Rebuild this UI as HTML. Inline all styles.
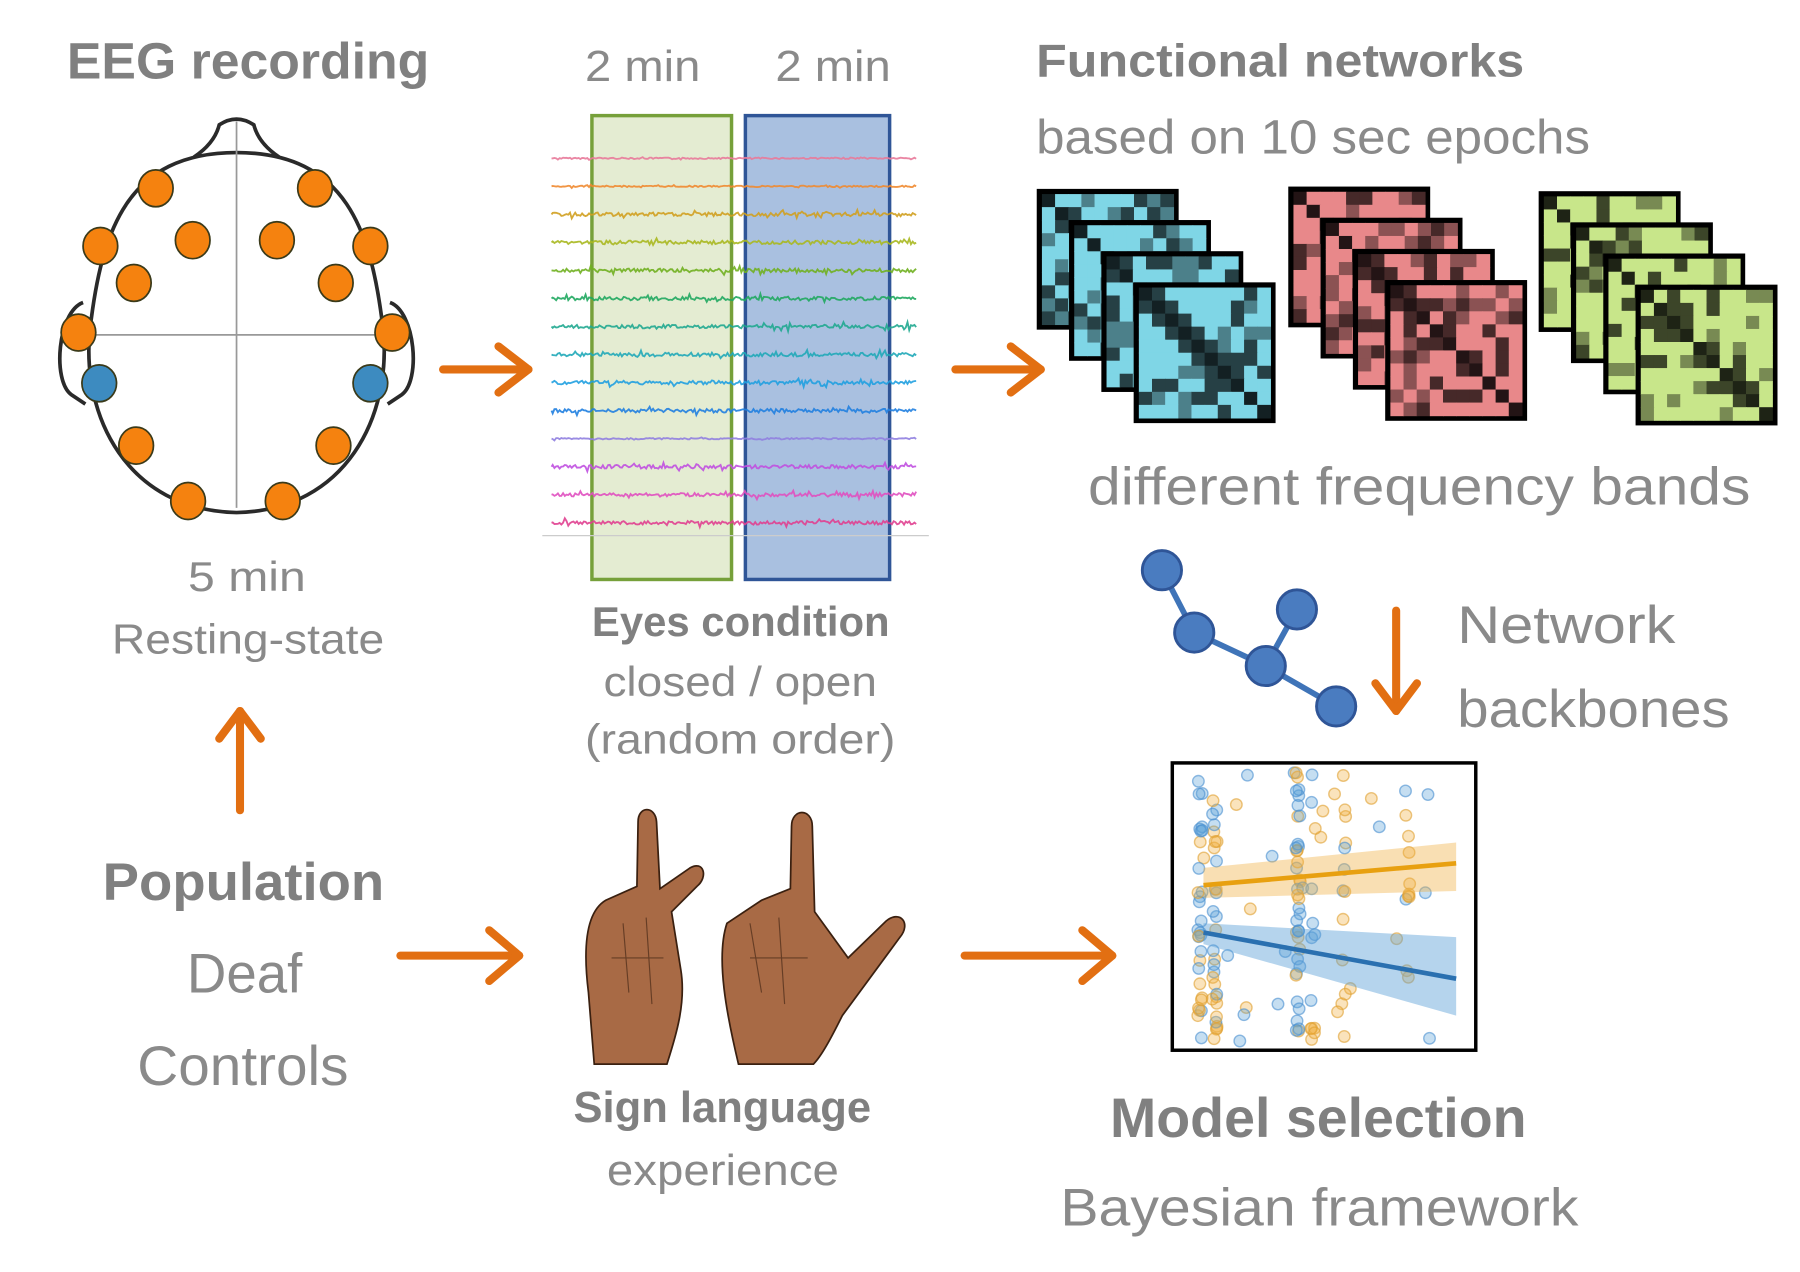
<!DOCTYPE html>
<html><head><meta charset="utf-8"><style>
html,body{margin:0;padding:0;background:#fff;width:1800px;height:1272px;overflow:hidden}
svg{display:block}
text{font-family:"Liberation Sans",sans-serif;fill:#8a8a8a}
.b{font-weight:bold;fill:#808080}
</style></head><body>
<svg id="s" width="1800" height="1272" viewBox="0 0 1560 1102" xmlns="http://www.w3.org/2000/svg">
<!-- titles -->
<text class="b" x="58" y="68" font-size="44" textLength="314" lengthAdjust="spacingAndGlyphs">EEG recording</text>
<text x="507" y="70" font-size="38" textLength="100" lengthAdjust="spacingAndGlyphs">2 min</text>
<text x="672" y="70" font-size="38" textLength="100" lengthAdjust="spacingAndGlyphs">2 min</text>
<text class="b" x="898" y="66" font-size="40" textLength="423" lengthAdjust="spacingAndGlyphs">Functional networks</text>
<text x="898" y="133" font-size="42" textLength="480" lengthAdjust="spacingAndGlyphs">based on 10 sec epochs</text>
<text x="943" y="437" font-size="46" textLength="574" lengthAdjust="spacingAndGlyphs">different frequency bands</text>
<text x="163" y="512" font-size="36" textLength="102" lengthAdjust="spacingAndGlyphs">5 min</text>
<text x="97" y="566" font-size="36" textLength="236" lengthAdjust="spacingAndGlyphs">Resting-state</text>
<text class="b" x="513" y="551" font-size="36" textLength="258" lengthAdjust="spacingAndGlyphs">Eyes condition</text>
<text x="523" y="603" font-size="36" textLength="237" lengthAdjust="spacingAndGlyphs">closed / open</text>
<text x="507" y="653" font-size="36" textLength="269" lengthAdjust="spacingAndGlyphs">(random order)</text>
<text x="1263" y="557" font-size="46" textLength="189" lengthAdjust="spacingAndGlyphs">Network</text>
<text x="1263" y="630" font-size="46" textLength="236" lengthAdjust="spacingAndGlyphs">backbones</text>
<text class="b" x="89" y="780" font-size="46" textLength="244" lengthAdjust="spacingAndGlyphs">Population</text>
<text x="162" y="860" font-size="48" textLength="100" lengthAdjust="spacingAndGlyphs">Deaf</text>
<text x="119" y="940" font-size="48" textLength="183" lengthAdjust="spacingAndGlyphs">Controls</text>
<text class="b" x="497" y="972" font-size="38" textLength="258" lengthAdjust="spacingAndGlyphs">Sign language</text>
<text x="526" y="1027" font-size="38" textLength="201" lengthAdjust="spacingAndGlyphs">experience</text>
<text class="b" x="962" y="985" font-size="48" textLength="361" lengthAdjust="spacingAndGlyphs">Model selection</text>
<text x="919" y="1062" font-size="46" textLength="449" lengthAdjust="spacingAndGlyphs">Bayesian framework</text>

<!-- head -->
<g fill="none" stroke="#2a2a2a" stroke-width="3.2">
<path d="M168,136 Q186,124 190,108 Q205,98 220,108 Q224,124 242,136"/>
<path d="M205,132 C110,132 88,200 78,285 C70,360 110,442 205,444 C300,442 340,360 332,285 C322,200 300,132 205,132 Z"/>
<path d="M72,262 C50,270 45,330 62,342 L74,350"/>
<path d="M338,262 C360,270 365,330 348,342 L336,350"/>
</g>
<g stroke="#999" stroke-width="1.5"><line x1="205" y1="105" x2="205" y2="440"/><line x1="68" y1="290" x2="340" y2="290"/></g>
<g stroke="#3a3a1a" stroke-width="1.5" fill="#f5820f">
<ellipse cx="135" cy="163" rx="15" ry="16"/><ellipse cx="273" cy="163" rx="15" ry="16"/>
<ellipse cx="167" cy="208" rx="15" ry="16"/><ellipse cx="240" cy="208" rx="15" ry="16"/>
<ellipse cx="87" cy="213" rx="15" ry="16"/><ellipse cx="321" cy="213" rx="15" ry="16"/>
<ellipse cx="116" cy="245" rx="15" ry="16"/><ellipse cx="291" cy="245" rx="15" ry="16"/>
<ellipse cx="68" cy="288" rx="15" ry="16"/><ellipse cx="340" cy="288" rx="15" ry="16"/>
<ellipse cx="118" cy="386" rx="15" ry="16"/><ellipse cx="289" cy="386" rx="15" ry="16"/>
<ellipse cx="163" cy="434" rx="15" ry="16"/><ellipse cx="245" cy="434" rx="15" ry="16"/>
<ellipse cx="86" cy="332" rx="15" ry="16" fill="#3d8bc0"/><ellipse cx="321" cy="332" rx="15" ry="16" fill="#3d8bc0"/>
</g>

<!-- EEG boxes -->
<rect x="513" y="100" width="121" height="402" fill="#e4ecd2" stroke="#76a03a" stroke-width="3"/>
<rect x="646" y="100" width="125" height="402" fill="#a9c0e0" stroke="#2f5597" stroke-width="3"/>
<g id="eeg"></g>
<line x1="470" y1="464" x2="805" y2="464" stroke="#ccc" stroke-width="1"/>

<!-- arrows -->
<g stroke="#e26f12" stroke-width="7" fill="none" stroke-linecap="round" stroke-linejoin="round">
<line x1="384" y1="320" x2="458" y2="320"/><path d="M432,300 L458,320 L432,340"/>
<line x1="828" y1="320" x2="902" y2="320"/><path d="M876,300 L902,320 L876,340"/>
<line x1="347" y1="828" x2="450" y2="828"/><path d="M424,806 L450,828 L424,850"/>
<line x1="836" y1="828" x2="964" y2="828"/><path d="M938,806 L964,828 L938,850"/>
<line x1="208" y1="702" x2="208" y2="616"/><path d="M190,640 L208,616 L226,640"/>
<line x1="1210" y1="529" x2="1210" y2="616"/><path d="M1192,592 L1210,616 L1228,592"/>
</g>

<g id="mats"></g>

<!-- network -->
<g stroke="#3f74b8" stroke-width="5"><line x1="1007" y1="494" x2="1035" y2="548"/><line x1="1035" y1="548" x2="1097" y2="577"/><line x1="1124" y1="528" x2="1097" y2="577"/><line x1="1097" y1="577" x2="1158" y2="612"/></g>
<g fill="#4a7cc0" stroke="#2f5597" stroke-width="2.5">
<circle cx="1007" cy="494" r="17"/><circle cx="1035" cy="548" r="17"/><circle cx="1124" cy="528" r="17"/><circle cx="1097" cy="577" r="17"/><circle cx="1158" cy="612" r="17"/></g>

<!-- scatter -->
<g id="sc"></g>
<path d="M1043,752 L1262,730 L1262,772 L1043,778 Z" fill="#f0b040" opacity="0.4"/>
<path d="M1043,800 L1262,812 L1262,880 L1043,818 Z" fill="#5aa0d8" opacity="0.45"/>
<line x1="1043" y1="767" x2="1262" y2="748" stroke="#e8a010" stroke-width="4"/>
<line x1="1043" y1="808" x2="1262" y2="848" stroke="#2a70b0" stroke-width="4"/>
<rect x="1016" y="661" width="263" height="249" fill="none" stroke="#000" stroke-width="3"/>

<!-- hands -->
<g fill="#a86a45" stroke="#3a2010" stroke-width="1.5">
<path d="M515,922 L510,860 C505,820 508,790 525,780 L552,768 L553,712 C553,698 568,698 569,712 L572,770 L598,752 C610,745 614,760 604,768 L582,790 L590,840 C595,870 585,900 578,922 Z"/>
<path d="M640,922 C630,880 620,830 630,800 L660,780 L685,770 L686,716 C686,700 704,700 704,716 L706,790 L735,830 L768,798 C780,788 790,800 780,812 L730,880 C720,900 712,915 705,922 Z"/>
</g>
<g stroke="#3a2010" stroke-width="1" fill="none" opacity="0.6">
<path d="M540,800 L545,860 M560,795 L565,870 M650,800 L660,860 M675,795 L680,870 M530,830 L575,830 M650,830 L700,830"/>
</g>
</svg>
<script>
(function(){
var NS="http://www.w3.org/2000/svg";
var seed=7;function r(){seed=(seed*9301+49297)%233280;return seed/233280;}
function el(t,a,p){var e=document.createElementNS(NS,t);for(var k in a)e.setAttribute(k,a[k]);p.appendChild(e);return e;}
var cols=["#e87a9a","#f08a30","#d0a020","#a8b820","#70b020","#20a860","#20a890","#20a8b8","#20a0e0","#2080e0","#9080e0","#c050e0","#e050c0","#e04090"];
var g=document.getElementById("eeg");
for(var i=0;i<14;i++){var y=137+i*24.3,d="M478,"+y;
 var a=(i<2||i==10)?0.6:1.6;
 for(var x=479;x<=795;x+=1.5){var burst=r()<0.08?2.5:1;d+=" L"+x.toFixed(1)+","+(y+(r()-0.5)*a*2*burst).toFixed(1);}
 el("path",{d:d,stroke:cols[i],"stroke-width":1.6,fill:"none",opacity:0.9},g);}
var m=document.getElementById("mats");
var sets=[[900,165,[127,214,230]],[1118,163,[232,136,138]],[1335,167,[200,230,138]]];
sets.forEach(function(s,si){for(var L=0;L<4;L++){var x0=s[0]+L*28,y0=s[1]+L*27,w=120,h=119,n=10;
 el("rect",{x:x0,y:y0,width:w,height:h,fill:"#000"},m);
 var M=[];for(var a=0;a<n;a++){M[a]=[];for(var b=0;b<n;b++){if(b<a){M[a][b]=M[b][a];continue;}
  var v=r();var f=(a==b)?0.15:(Math.abs(a-b)==1&&v<0.5?0.3:(v<0.18?0.3:(v<0.4?0.6:1)));M[a][b]=f;}}
 for(var a=0;a<n;a++)for(var b=0;b<n;b++){var f=M[a][b];
  var c=s[2].map(function(q){return Math.round(q*f);});
  el("rect",{x:x0+3+b*(w-6)/n,y:y0+3+a*(h-6)/n,width:(w-6)/n+0.5,height:(h-6)/n+0.5,fill:"rgb("+c+")"},m);}
 el("rect",{x:x0,y:y0,width:w,height:h,fill:"none",stroke:"#000","stroke-width":3},m);}});
var sc=document.getElementById("sc");
var xs=[1040,1040,1053,1053,1125,1125,1138,1165,1220];
for(var k=0;k<160;k++){var cx=xs[Math.floor(r()*xs.length)]+(r()-0.5)*4;if(r()<0.25)cx=1040+r()*220;
 var cy=668+r()*236;var o=r()<0.5;
 el("circle",{cx:cx.toFixed(1),cy:cy.toFixed(1),r:5,fill:o?"#f0b040":"#5aa0d8","fill-opacity":0.35,stroke:o?"#e0a030":"#4a90d0","stroke-opacity":0.6,"stroke-width":1.2},sc);}
})();
</script>
</body></html>
